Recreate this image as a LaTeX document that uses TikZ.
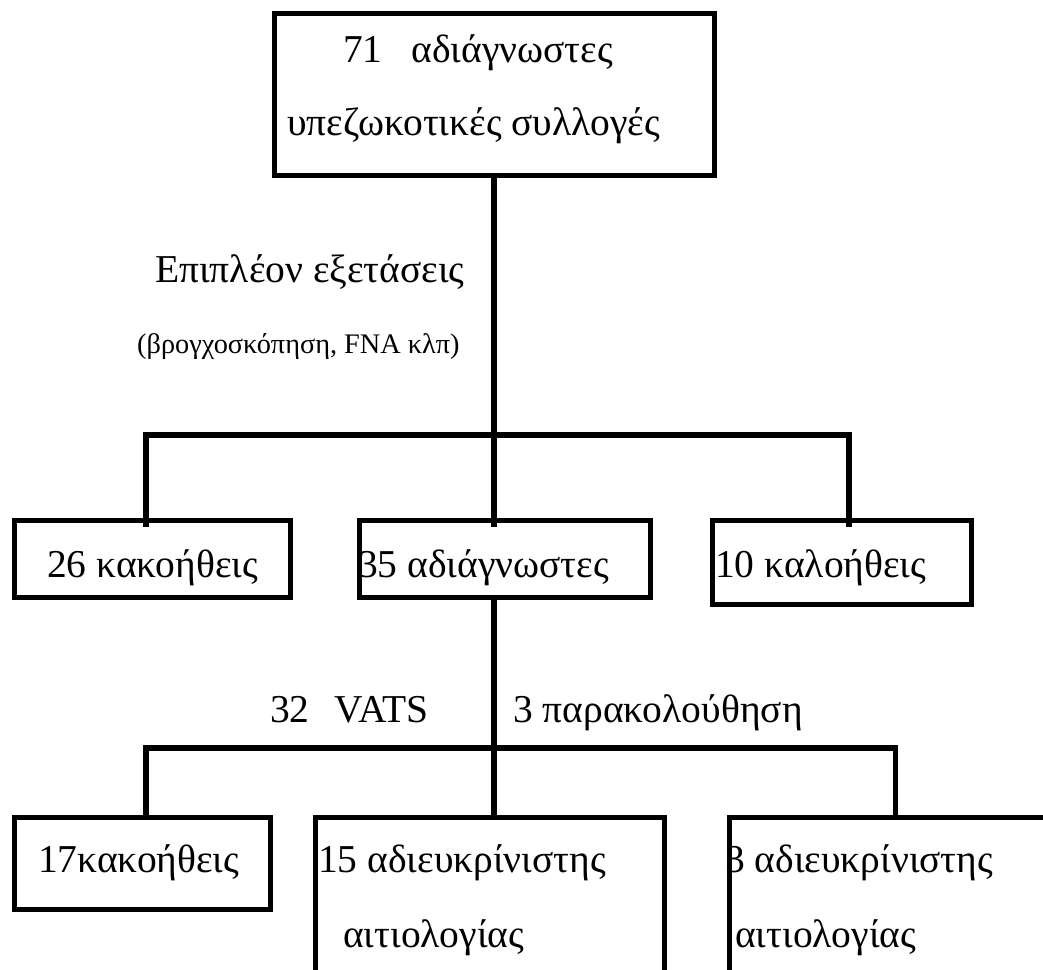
\documentclass[tikz,border=0pt]{standalone}
\usepackage{fontspec}
\setmainfont{Liberation Serif}
\begin{document}
\begin{tikzpicture}[x=1pt,y=-1pt,
  boxshape/.style={draw,line width=5pt,rectangle,inner sep=0pt},
  conn/.style={line width=5.5pt},
  barline/.style={line width=6.5pt},
  txt/.style={anchor=base west,inner sep=0pt,font=\fontsize{39.5}{46}\selectfont},
  smalltxt/.style={anchor=base west,inner sep=0pt,font=\fontsize{28.3}{34}\selectfont}]
\clip (0,0) rectangle (1043,969);
\fill[white] (0,0) rectangle (1043,969);
% texts
\node[txt] (t71) at (343,62) {71\hspace{19pt} αδιάγνωστες};
\node[txt] (tup) at (287,135) {υπεζωκοτικές συλλογές};
\node[txt] (tep) at (155,282) {Επιπλέον εξετάσεις};
\node[smalltxt] (tbr) at (137,353) {(βρογχοσκόπηση, FNA κλπ)};
\node[txt] (t26) at (47,577) {26 κακοήθεις};
\node[txt] (t35) at (358,577) {35 αδιάγνωστες};
\node[txt] (t10) at (715,577) {10 καλοήθεις};
\node[txt] (t32) at (270,722) {32\hspace{15pt} VATS};
\node[txt] (t3p) at (513,722) {3 παρακολούθηση};
\node[txt] (t17) at (38,872) {17κακοήθεις};
\node[txt] (t15) at (318,872) {15 αδιευκρίνιστης};
\node[txt] (t15b) at (343,947) {αιτιολογίας};
\node[txt] (t3a) at (725,872) {3 αδιευκρίνιστης};
\node[txt] (t3b) at (735,947) {αιτιολογίας};
% boxes
\node[boxshape,minimum width=440pt,minimum height=162pt] (top) at (494.5,94.5) {};
\node[boxshape,minimum width=276pt,minimum height=77pt] (b26) at (152.5,559) {};
\node[boxshape,minimum width=291pt,minimum height=77pt] (b35) at (505,559) {};
\node[boxshape,minimum width=259pt,minimum height=84pt] (b10) at (842,562.5) {};
\node[boxshape,minimum width=256pt,minimum height=92pt] (b17) at (142.5,863.5) {};
\node[boxshape,minimum width=349pt,minimum height=250pt] (b15) at (490,942.5) {};
\node[boxshape,minimum width=400pt,minimum height=250pt] (b3) at (929.5,942.5) {};
% connectors tier 1
\coordinate (j1) at (494,435);
\coordinate (l1) at (143,435);
\coordinate (r1) at (852,435);
\coordinate (d26) at (146,527);
\coordinate (d35) at (494,527);
\coordinate (d10) at (849,527);
\draw[conn] (j1 |- top.south) -- (j1);
\draw[barline] (l1) -- (r1);
\draw[conn] (d26 |- j1) -- (d26);
\draw[conn] (d35 |- j1) -- (d35);
\draw[conn] (d10 |- j1) -- (d10);
% connectors tier 2
\coordinate (j2) at (494,748);
\coordinate (l2) at (143,748);
\coordinate (r2) at (898,748);
\coordinate (d17) at (146,818);
\coordinate (d15) at (494,818);
\coordinate (d3) at (895.5,818);
\draw[conn] (j2 |- b35.south) -- (j2);
\draw[barline] (l2) -- (r2);
\draw[conn] (d17 |- j2) -- (d17);
\draw[conn] (d15 |- j2) -- (d15);
\draw[conn] (d3 |- j2) -- (d3);
\end{tikzpicture}
\end{document}
